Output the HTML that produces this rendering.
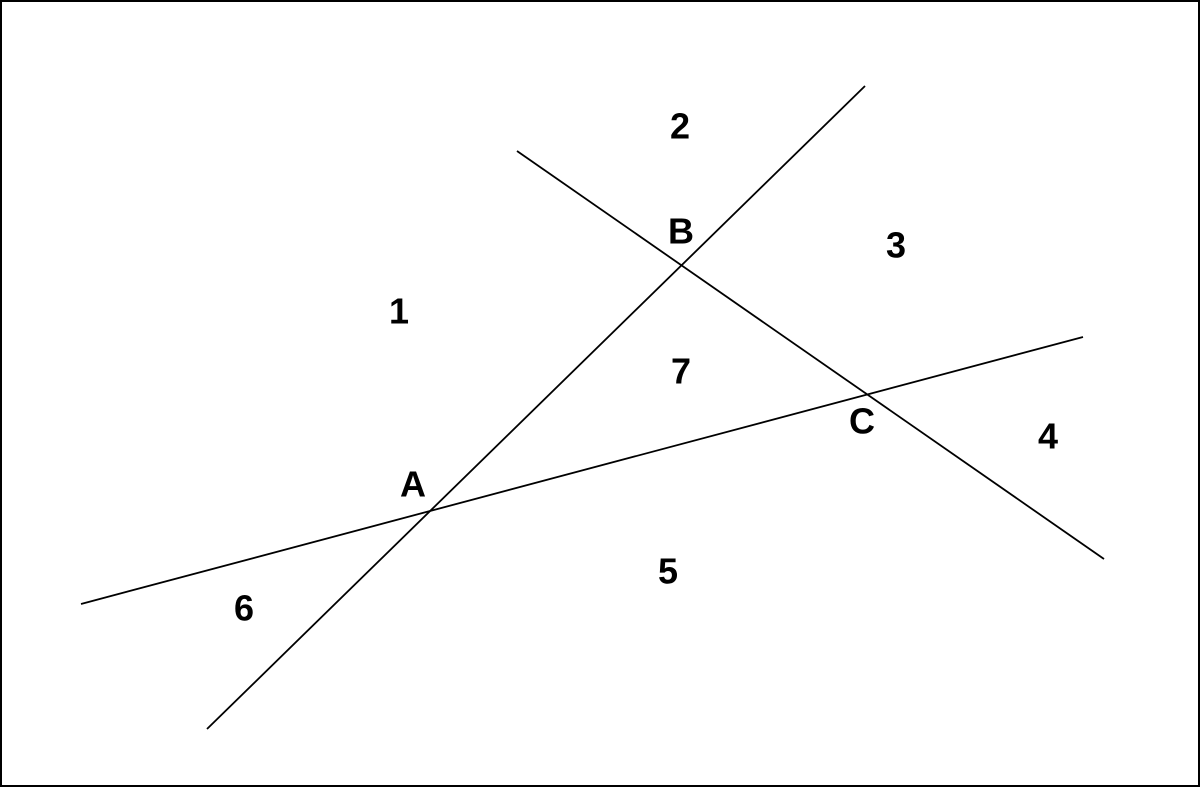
<!DOCTYPE html>
<html><head><meta charset="utf-8"><style>
html,body{margin:0;padding:0;background:#fff;}
svg{display:block;}
text{font-family:"Liberation Sans",Arial,sans-serif;font-weight:bold;font-size:36px;fill:#000;}
</style></head><body>
<svg width="1200" height="787" viewBox="0 0 1200 787" xmlns="http://www.w3.org/2000/svg">
<rect x="1" y="1" width="1198" height="785" fill="#fff" stroke="#000" stroke-width="2"/>
<g stroke="#000" stroke-width="1.8" fill="none">
<line x1="207" y1="729" x2="865" y2="86"/>
<line x1="517" y1="151" x2="1104" y2="559"/>
<line x1="81" y1="604" x2="1083" y2="337"/>
</g>
<g text-anchor="middle" dominant-baseline="central">
<text x="680" y="126">2</text>
<text x="681" y="231">B</text>
<text x="896" y="245">3</text>
<text x="399" y="311">1</text>
<text x="681" y="371">7</text>
<text x="862" y="421">C</text>
<text x="1048" y="436">4</text>
<text x="413" y="484">A</text>
<text x="668" y="571">5</text>
<text x="244" y="608">6</text>
</g>
</svg>
</body></html>
